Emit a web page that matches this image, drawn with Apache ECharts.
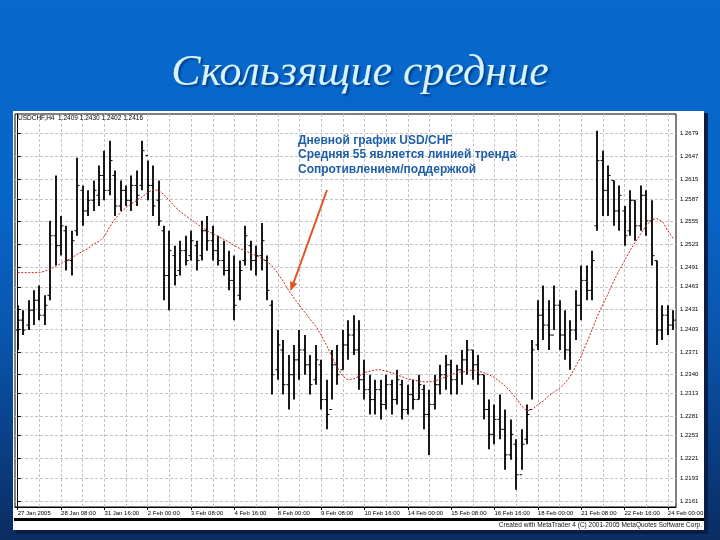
<!DOCTYPE html>
<html>
<head>
<meta charset="utf-8">
<script src="https://cdn.jsdelivr.net/npm/echarts@6/dist/echarts.min.js"></script>
<style>
html,body{margin:0;padding:0;}
body{width:720px;height:540px;overflow:hidden;
background:linear-gradient(180deg,#0868cc 0%,#0865c8 38%,#0a55ad 62%,#0a3f86 82%,#0b2d62 100%);}
#main{width:720px;height:540px;}
</style>
</head>
<body>
<div id="main"></div>
<script>
// ---- data ----
var titleText = 'Скользящие средние';
var noteLines = ['Дневной график USD/CHF', 'Средняя 55 является линией тренда', 'Сопротивлением/поддержкой'];
var symbolText = 'USDCHF,H4';
var creditText = 'Created with MetaTrader 4 (C) 2001-2005 MetaQuotes Software Corp.';
var dateLabels = ['27 Jan 2005','28 Jan 08:00','31 Jan 16:00','2 Feb 00:00','3 Feb 08:00','4 Feb 16:00',
  '8 Feb 00:00','9 Feb 08:00','10 Feb 16:00','14 Feb 00:00','15 Feb 08:00','16 Feb 16:00',
  '18 Feb 00:00','21 Feb 08:00','22 Feb 16:00','24 Feb 00:00'];
var priceLabels = ['1.2679','1.2647','1.2615','1.2587','1.2555','1.2523','1.2491','1.2463','1.2431',
  '1.2403','1.2371','1.2340','1.2313','1.2281','1.2253','1.2221','1.2193','1.2161'];

var openP = [1.2402,1.2416,1.2409,1.2430,1.2444,1.2423,1.2451,1.2535,1.2521,1.2542,
1.2500,1.2542,1.2599,1.2570,1.2585,1.2592,1.2620,1.2599,1.2620,1.2577,
1.2599,1.2585,1.2606,1.2606,1.2648,1.2606,1.2585,1.2542,1.2479,1.2507,
1.2486,1.2514,1.2507,1.2521,1.2507,1.2542,1.2528,1.2514,1.2500,1.2486,
1.2472,1.2451,1.2500,1.2521,1.2500,1.2507,1.2500,1.2437,1.2346,1.2374,
1.2325,1.2339,1.2360,1.2374,1.2353,1.2332,1.2353,1.2304,1.2290,1.2353,
1.2346,1.2381,1.2395,1.2374,1.2332,1.2318,1.2304,1.2318,1.2297,1.2325,
1.2304,1.2325,1.2290,1.2311,1.2304,1.2318,1.2283,1.2297,1.2325,1.2339,
1.2353,1.2332,1.2346,1.2360,1.2374,1.2353,1.2339,1.2290,1.2255,1.2276,
1.2262,1.2226,1.2241,1.2198,1.2248,1.2290,1.2381,1.2423,1.2409,1.2395,
1.2437,1.2395,1.2374,1.2402,1.2437,1.2472,1.2458,1.2549,1.2641,1.2599,
1.2613,1.2570,1.2570,1.2542,1.2585,1.2549,1.2592,1.2556,1.2500,1.2402,
1.2423,1.2409];
var highP = [1.2437,1.2430,1.2444,1.2458,1.2465,1.2451,1.2556,1.2620,1.2563,1.2549,
1.2542,1.2645,1.2606,1.2599,1.2613,1.2634,1.2655,1.2669,1.2627,1.2613,
1.2606,1.2620,1.2627,1.2669,1.2641,1.2634,1.2613,1.2549,1.2542,1.2521,
1.2528,1.2535,1.2542,1.2528,1.2556,1.2563,1.2549,1.2535,1.2528,1.2514,
1.2507,1.2500,1.2549,1.2528,1.2521,1.2553,1.2507,1.2444,1.2402,1.2388,
1.2367,1.2381,1.2402,1.2395,1.2367,1.2381,1.2360,1.2332,1.2374,1.2381,
1.2402,1.2416,1.2423,1.2416,1.2360,1.2339,1.2332,1.2332,1.2339,1.2332,
1.2346,1.2332,1.2325,1.2332,1.2339,1.2325,1.2318,1.2339,1.2353,1.2367,
1.2360,1.2353,1.2374,1.2388,1.2374,1.2367,1.2339,1.2304,1.2297,1.2311,
1.2290,1.2276,1.2248,1.2262,1.2297,1.2388,1.2444,1.2465,1.2444,1.2465,
1.2444,1.2430,1.2416,1.2458,1.2493,1.2493,1.2514,1.2683,1.2655,1.2634,
1.2613,1.2606,1.2577,1.2599,1.2585,1.2606,1.2599,1.2585,1.2500,1.2437,
1.2437,1.2430];
var lowP = [1.2374,1.2395,1.2402,1.2409,1.2416,1.2409,1.2444,1.2493,1.2507,1.2486,
1.2479,1.2535,1.2549,1.2563,1.2570,1.2577,1.2585,1.2592,1.2563,1.2570,
1.2577,1.2570,1.2577,1.2599,1.2585,1.2563,1.2549,1.2444,1.2430,1.2465,
1.2479,1.2493,1.2500,1.2486,1.2500,1.2514,1.2500,1.2493,1.2479,1.2458,
1.2416,1.2444,1.2493,1.2486,1.2479,1.2486,1.2444,1.2311,1.2332,1.2311,
1.2290,1.2304,1.2332,1.2339,1.2311,1.2325,1.2290,1.2262,1.2304,1.2325,
1.2346,1.2360,1.2367,1.2318,1.2304,1.2283,1.2283,1.2276,1.2290,1.2283,
1.2297,1.2276,1.2283,1.2290,1.2304,1.2262,1.2226,1.2290,1.2311,1.2318,
1.2311,1.2311,1.2325,1.2339,1.2332,1.2325,1.2276,1.2234,1.2241,1.2248,
1.2205,1.2219,1.2177,1.2205,1.2241,1.2304,1.2374,1.2388,1.2374,1.2402,
1.2374,1.2360,1.2346,1.2388,1.2416,1.2444,1.2444,1.2542,1.2563,1.2563,
1.2549,1.2542,1.2521,1.2535,1.2528,1.2542,1.2535,1.2493,1.2381,1.2388,
1.2395,1.2402];
var closeP = [1.2416,1.2402,1.2430,1.2444,1.2423,1.2437,1.2535,1.2521,1.2549,1.2500,
1.2528,1.2606,1.2570,1.2585,1.2599,1.2620,1.2599,1.2641,1.2577,1.2599,
1.2585,1.2606,1.2592,1.2655,1.2606,1.2577,1.2556,1.2479,1.2514,1.2479,
1.2514,1.2500,1.2528,1.2500,1.2542,1.2528,1.2514,1.2500,1.2486,1.2472,
1.2437,1.2486,1.2535,1.2500,1.2507,1.2528,1.2458,1.2339,1.2381,1.2325,
1.2339,1.2360,1.2374,1.2353,1.2325,1.2360,1.2304,1.2283,1.2353,1.2339,
1.2381,1.2395,1.2374,1.2332,1.2318,1.2304,1.2318,1.2297,1.2325,1.2304,
1.2332,1.2290,1.2311,1.2304,1.2325,1.2283,1.2297,1.2325,1.2339,1.2353,
1.2332,1.2346,1.2360,1.2374,1.2353,1.2339,1.2290,1.2255,1.2276,1.2262,
1.2226,1.2255,1.2198,1.2241,1.2283,1.2374,1.2423,1.2409,1.2395,1.2437,
1.2395,1.2374,1.2402,1.2437,1.2472,1.2458,1.2500,1.2641,1.2599,1.2620,
1.2570,1.2592,1.2535,1.2585,1.2549,1.2592,1.2556,1.2507,1.2402,1.2423,
1.2409,1.2416];
var ma55 = [1.2483,1.2483,1.2483,1.2483,1.2483,1.2485,1.2488,1.2492,1.2496,1.2500,
1.2504,1.2509,1.2513,1.2517,1.2523,1.2527,1.2534,1.2548,1.2559,1.2568,
1.2575,1.2580,1.2585,1.2590,1.2596,1.2600,1.2599,1.2593,1.2585,1.2576,
1.2569,1.2563,1.2558,1.2552,1.2547,1.2542,1.2538,1.2534,1.2530,1.2526,
1.2521,1.2517,1.2514,1.2510,1.2507,1.2503,1.2499,1.2492,1.2482,1.2471,
1.2458,1.2447,1.2437,1.2427,1.2417,1.2408,1.2395,1.2381,1.2364,1.2349,
1.2337,1.2332,1.2333,1.2337,1.2342,1.2344,1.2346,1.2346,1.2344,1.2342,
1.2339,1.2336,1.2333,1.2332,1.2330,1.2329,1.2329,1.2330,1.2333,1.2336,
1.2339,1.2342,1.2343,1.2344,1.2346,1.2344,1.2342,1.2339,1.2335,1.2329,
1.2323,1.2315,1.2306,1.2295,1.2288,1.2290,1.2297,1.2302,1.2309,1.2315,
1.2320,1.2327,1.2337,1.2351,1.2365,1.2384,1.2402,1.2422,1.2438,1.2454,
1.2471,1.2486,1.2500,1.2514,1.2526,1.2538,1.2549,1.2558,1.2559,1.2555,
1.2542,1.2531];

// ---- build ----
var n = highP.length;
var bars = [], maLine = [];
for (var i = 0; i < n; i++) {
  bars.push([i, openP[i], highP[i], lowP[i], closeP[i]]);
  maLine.push([i, ma55[i]]);
}
var labelTicks = dateLabels.map(function (_, k) { return k * 8; });
var gridTicks = [];
for (var k = 0; k < dateLabels.length * 2; k++) gridTicks.push(k * 4);
var priceTicks = priceLabels.map(Number);

var chart = echarts.init(document.getElementById('main'), null, {renderer: 'canvas'});
var axisFont = '"Liberation Sans", sans-serif';
var last = n - 1;
var infoText = symbolText + '  ' + openP[last].toFixed(4) + ' ' + highP[last].toFixed(4) + ' ' +
  lowP[last].toFixed(4) + ' ' + closeP[last].toFixed(4);

var option = {
  animation: false,
  backgroundColor: 'transparent',
  title: {
    text: titleText, left: 'center', top: 46,
    textStyle: {fontFamily: 'Liberation Serif', fontStyle: 'italic', fontWeight: 'normal',
      fontSize: 44, color: '#d6f3ff', textShadowColor: 'rgba(0,20,60,0.45)',
      textShadowBlur: 2, textShadowOffsetX: 2, textShadowOffsetY: 2}
  },
  grid: {left: 15, right: 44, top: 114, bottom: 33, show: true, backgroundColor: '#fff',
    borderColor: '#000', borderWidth: 1},
  xAxis: [{
    type: 'value', min: -0.5, max: n - 0.5, position: 'bottom',
    axisLine: {show: false}, axisLabel: {show: false},
    axisTick: {show: false, customValues: gridTicks},
    splitLine: {show: true, lineStyle: {color: '#c4c4c4', width: 1, type: [3, 2]}}
  }, {
    type: 'value', min: -0.5, max: n - 0.5, position: 'bottom',
    axisLine: {show: true, onZero: false, lineStyle: {color: '#000', width: 1}},
    axisTick: {show: true, length: 3, customValues: labelTicks, lineStyle: {color: '#000'}},
    axisLabel: {show: true, customValues: labelTicks, align: 'left', margin: 3,
      fontFamily: axisFont, fontSize: 6, color: '#000', hideOverlap: false,
      formatter: function (v) { return dateLabels[Math.round(v / 8)] || ''; }},
    splitLine: {show: false}
  }],
  yAxis: [{
    type: 'value', position: 'right', min: 1.21525, max: 1.27067, scale: true,
    axisLine: {show: true, lineStyle: {color: '#000', width: 1}},
    axisTick: {show: true, length: 3, customValues: priceTicks, lineStyle: {color: '#000'}},
    axisLabel: {show: true, customValues: priceTicks, margin: 4, fontFamily: axisFont,
      fontSize: 6, color: '#000', formatter: function (v) { return v.toFixed(4); }},
    splitLine: {show: true, lineStyle: {color: '#c4c4c4', width: 1, type: [3, 2]}}
  }],
  series: [{
    type: 'custom', xAxisIndex: 0, yAxisIndex: 0, data: bars,
    encode: {x: 0, y: [2, 3]}, z: 3,
    renderItem: function (params, api) {
      var xi = api.value(0);
      var o = api.coord([xi, api.value(1)]);
      var h = api.coord([xi, api.value(2)]);
      var l = api.coord([xi, api.value(3)]);
      var c = api.coord([xi, api.value(4)]);
      var x = Math.round(h[0]);
      return {type: 'group', children: [
        {type: 'line', shape: {x1: x, y1: h[1], x2: x, y2: l[1]}, style: {stroke: '#000', lineWidth: 1.8}},
        {type: 'line', shape: {x1: x - 2.5, y1: o[1], x2: x, y2: o[1]}, style: {stroke: '#000', lineWidth: 1}},
        {type: 'line', shape: {x1: x, y1: c[1], x2: x + 2.5, y2: c[1]}, style: {stroke: '#000', lineWidth: 1}}
      ]};
    }
  }, {
    type: 'line', xAxisIndex: 0, yAxisIndex: 0, data: maLine, showSymbol: false, smooth: false,
    z: 4, lineStyle: {color: '#c8241e', width: 1, type: [2, 1.5]}
  }],
  graphic: {elements: [
    {type: 'rect', z: -20, shape: {x: 704, y: 113, width: 4, height: 421}, style: {fill: '#0a1e45'}},
    {type: 'rect', z: -20, shape: {x: 16, y: 530, width: 692, height: 4}, style: {fill: '#0a1e45'}},
    {type: 'rect', z: -10, shape: {x: 13, y: 111, width: 691, height: 419}, style: {fill: '#ffffff'}},
    {type: 'rect', z: 5, shape: {x: 14, y: 518, width: 690, height: 3}, style: {fill: '#000'}},
    {type: 'text', z: 5, style: {x: 18, y: 118, text: infoText, fontFamily: axisFont, fontSize: 6.5,
      fill: '#000', verticalAlign: 'middle'}},
    {type: 'text', z: 5, style: {x: 702, y: 525.5, text: creditText, fontFamily: axisFont, fontSize: 6.5,
      fill: '#111', align: 'right', verticalAlign: 'middle'}},
    {type: 'text', z: 6, style: {x: 298, y: 133, text: noteLines.join('\n'), fontFamily: 'Liberation Sans',
      fontWeight: 'bold', fontSize: 12, lineHeight: 14.5, fill: '#1f5ea8'}},
    {type: 'line', z: 6, shape: {x1: 327, y1: 190, x2: 293.5, y2: 283}, style: {stroke: '#e2531f', lineWidth: 2}},
    {type: 'polygon', z: 6, shape: {points: [[290.5, 291], [297.2, 283.8], [290.0, 281.2]]}, style: {fill: '#e2531f'}}
  ]}
};
chart.setOption(option);
</script>
</body>
</html>
